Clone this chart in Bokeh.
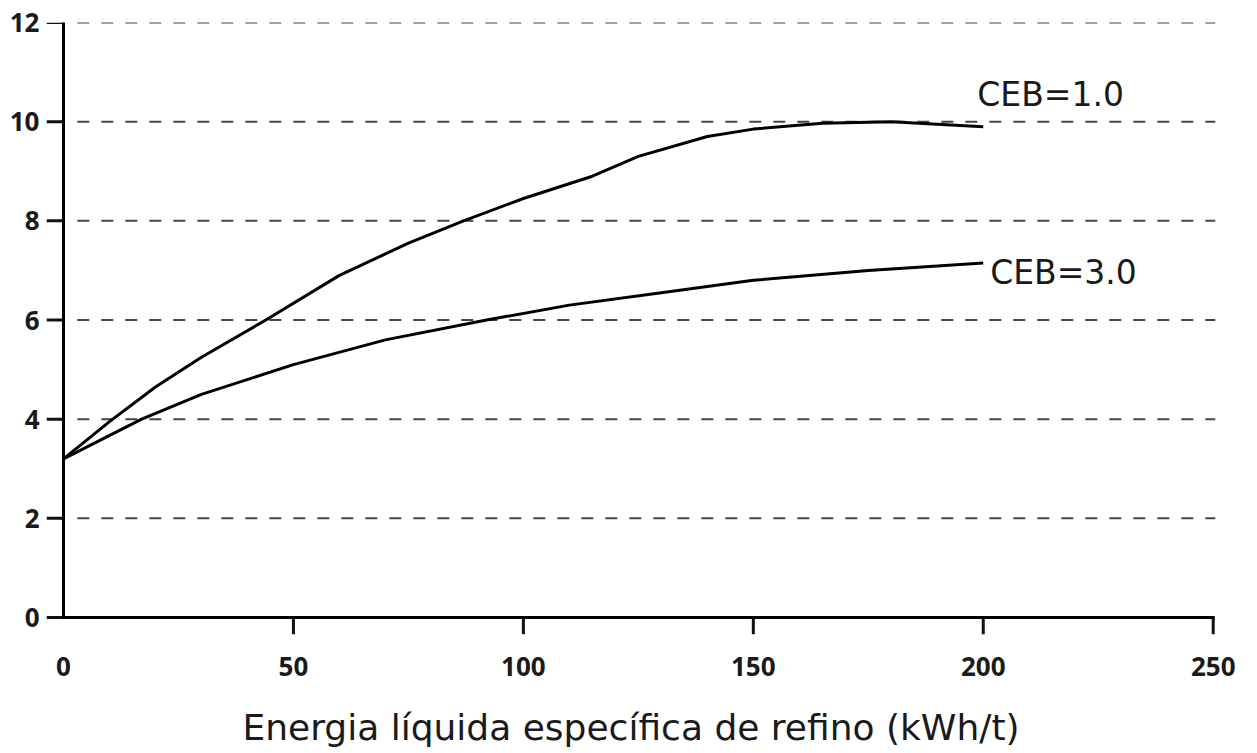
from bokeh.plotting import figure
from bokeh.models import ColumnDataSource, FixedTicker, Range1d
from bokeh.core.properties import value
from bokeh.embed import file_html
from bokeh.resources import INLINE

# Data
ceb1_x = [0, 10, 20, 30, 44, 60, 75, 87, 100, 115, 125, 140, 150, 165, 180, 200]
ceb1_y = [3.2, 3.95, 4.65, 5.25, 6.0, 6.9, 7.55, 8.0, 8.45, 8.9, 9.3, 9.7, 9.85, 9.97, 10.0, 9.9]
ceb3_x = [0, 17, 30, 50, 70, 92, 110, 130, 150, 175, 200]
ceb3_y = [3.2, 4.0, 4.5, 5.1, 5.6, 6.0, 6.3, 6.55, 6.8, 7.0, 7.15]
labels = ["CEB=1.0", "CEB=3.0"]
x_ticks = [0, 50, 100, 150, 200, 250]
y_ticks = [0, 2, 4, 6, 8, 10, 12]
grid_levels = [2, 4, 6, 8, 10, 12]
x_title = "Energia líquida específica de refino (kWh/t)"

X0, X1, Y0, Y1 = 0, 250, 0, 12
PX_X = (1213 - 63) / (X1 - X0)   # pixels per x unit
PX_Y = (618 - 22) / (Y1 - Y0)    # pixels per y unit
TICK = 17                        # tick length in pixels
dx = TICK / PX_X
dy = TICK / PX_Y

p = figure(width=1245, height=750, output_backend="svg", toolbar_location=None,
           x_range=Range1d(X0 - dx, X1 + 0.5), y_range=Range1d(Y0 - dy, Y1),
           min_border_left=46, min_border_top=22, min_border_right=30,
           min_border_bottom=115)
p.outline_line_color = None
p.background_fill_color = "white"
p.xgrid.grid_line_color = None
p.ygrid.grid_line_color = None

# dashed horizontal grid
p.segment(x0=[X0 + 3] * len(grid_levels), y0=grid_levels,
          x1=[X1 + 0.5] * len(grid_levels), y1=grid_levels,
          line_color="#444444", line_width=2, line_dash="12 12")

# tick marks as thin filled bars
p.vbar(x=x_ticks[1:], top=Y0, bottom=Y0 - dy, width=3 / PX_X,
       fill_color="#111111", line_color=None)
p.hbar(y=y_ticks, left=X0 - dx, right=X0, height=3 / PX_Y,
       fill_color="#111111", line_color=None)

# axis lines
p.line([X0, X0], [Y0, Y1], line_color="black", line_width=3, line_cap="square")
p.line([X0, X1], [Y0, Y0], line_color="black", line_width=3, line_cap="square")

# curves
p.line(ceb1_x, ceb1_y, line_color="black", line_width=3)
p.line(ceb3_x, ceb3_y, line_color="black", line_width=3)

lab_src = ColumnDataSource(dict(x=[198.7, 201.5], y=[10.55, 6.96], text=labels))
p.text(x="x", y="y", text="text", source=lab_src, text_font=value("DejaVu Sans"),
       text_font_size="33px", text_color="#1a1a1a", text_baseline="alphabetic",
       text_align="left")

p.xaxis.ticker = FixedTicker(ticks=x_ticks)
p.yaxis.ticker = FixedTicker(ticks=y_ticks)
for ax in (p.xaxis[0], p.yaxis[0]):
    ax.axis_line_color = None
    ax.major_tick_line_color = None
    ax.major_tick_in = 0
    ax.major_tick_out = 0
    ax.minor_tick_line_color = None
    ax.major_label_text_font = "Noto Sans"
    ax.major_label_text_font_style = "bold"
    ax.major_label_text_font_size = "26px"
    ax.major_label_text_color = "#1a1a1a"

p.yaxis.major_label_standoff = 7
p.xaxis.major_label_standoff = 22
p.xaxis.axis_label = x_title
p.xaxis.axis_label_text_font = "DejaVu Sans"
p.xaxis.axis_label_text_font_style = "normal"
p.xaxis.axis_label_text_font_size = "36px"
p.xaxis.axis_label_text_color = "#1a1a1a"
p.xaxis.axis_label_standoff = 28

open("out.html", "w").write(file_html(p, INLINE))
